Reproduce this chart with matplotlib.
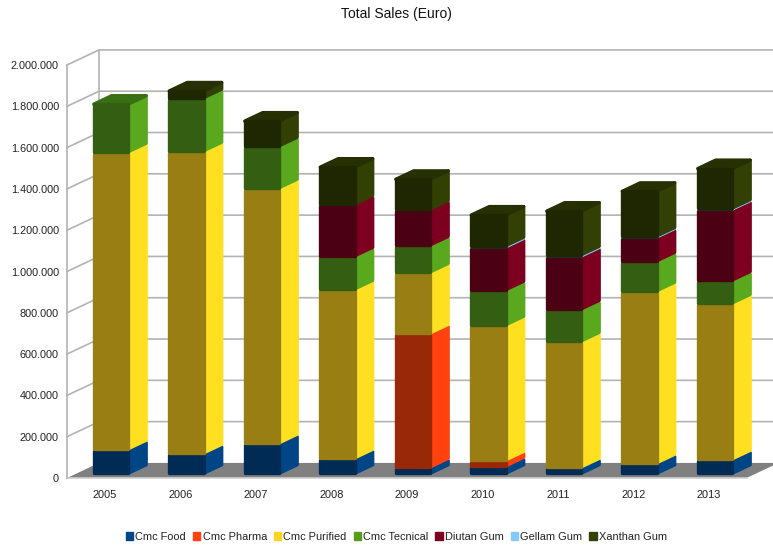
import matplotlib
matplotlib.use("Agg")
import matplotlib.pyplot as plt
from matplotlib.patches import Patch
from matplotlib.ticker import FuncFormatter

plt.rcParams['font.family'] = ['Liberation Sans', 'DejaVu Sans']

years = ['2005', '2006', '2007', '2008', '2009', '2010', '2011', '2012', '2013']

# values (euro)
cmc_food = [119000, 99000, 148000, 75000, 31000, 36000, 31000, 51000, 70000]
cmc_pharma = [0, 0, 0, 0, 649000, 29000, 0, 0, 0]
cmc_purified = [1438000, 1463000, 1235000, 818000, 295000, 654000, 610000, 833000, 755000]
cmc_tecnical = [242000, 257000, 203000, 160000, 131000, 170000, 155000, 145000, 111000]
diutan_gum = [0, 0, 0, 252000, 174000, 208000, 257000, 116000, 344000]
gellam_gum = [0, 0, 0, 0, 0, 5000, 5000, 4000, 4000]
xanthan_gum = [0, 44000, 131000, 189000, 155000, 160000, 223000, 228000, 203000]

names = ['Cmc Food', 'Cmc Pharma', 'Cmc Purified', 'Cmc Tecnical', 'Diutan Gum', 'Gellam Gum', 'Xanthan Gum']
series = [cmc_food, cmc_pharma, cmc_purified, cmc_tecnical, diutan_gum, gellam_gum, xanthan_gum]
side_colors = ['#004586', '#ff420e', '#ffe020', '#5aa81e', '#7e0021', '#83caff', '#334004']
front_colors = ['#002b55', '#992809', '#997e13', '#345e11', '#4b0013', '#2c2630', '#1e2602']
top_colors = ['#00386e', '#cc3510', '#c9a818', '#3a7014', '#600018', '#6aa3cc', '#263003']
legend_colors = ['#004586', '#ff420e', '#ffd320', '#579d1c', '#7e0021', '#83caff', '#314004']

W, H = 773, 547
fig = plt.figure(figsize=(W / 100, H / 100), dpi=100)
ax = fig.add_axes([67 / W, (H - 478) / H, 679.5 / W, 413 / H])
ax.set_xlim(-0.5, 8.5)
ax.set_ylim(0, 2000000)
for s in ax.spines.values():
    s.set_visible(False)
ax.patch.set_visible(False)

# 3d offsets, in axis units
wall_dx, wall_dy = 0.424, 73000
bar_dx, bar_dy = 0.238, 41000
bar_left, bar_w = -0.146, 0.457
base = 23000
corner = 5800
grid = '#b3b3b3'

# floor
ax.fill([-0.5, -0.5 + wall_dx, 8.5 + wall_dx, 8.5], [0, wall_dy, wall_dy, 0],
        color='#808080', lw=0, zorder=1, clip_on=False)
ax.plot([-0.5, 8.5], [0, 0], color='#d0d0d0', lw=1.2, zorder=1, clip_on=False)

# walls and grid
ticks = list(range(0, 2000001, 200000))
for t in ticks[1:]:
    ax.plot([-0.5, -0.5 + wall_dx, 8.5 + wall_dx], [t, t + wall_dy, t + wall_dy],
            color=grid, lw=1.2, zorder=1, clip_on=False)
ax.plot([-0.5, -0.5], [0, 2000000], color=grid, lw=1.2, zorder=1, clip_on=False)
ax.plot([-0.5 + wall_dx] * 2, [wall_dy, 2000000 + wall_dy], color=grid, lw=1.2, zorder=1, clip_on=False)

# stacked boxes
z = 2
for i in range(len(years)):
    x0 = i + bar_left
    x1 = x0 + bar_w
    bottom = base - corner
    last = max(k for k in range(len(series)) if series[k][i] > 0)
    for k in range(len(series)):
        v = series[k][i]
        if v == 0:
            continue
        top = bottom + v
        z += 1
        # thick round joins give the soft corners, thin slices stay thin
        inset = corner if v > 20000 else 0
        lw = 2.4 if v > 20000 else 1.0
        lo, hi = bottom + inset, top - inset
        style = dict(lw=lw, joinstyle='round', clip_on=False, zorder=z)
        ax.fill([x1, x1 + bar_dx, x1 + bar_dx, x1],
                [lo, lo + bar_dy, hi + bar_dy, hi],
                color=side_colors[k], **style)
        # only the uppermost box shows its lid
        if k == last:
            ax.fill([x0, x0 + bar_dx, x1 + bar_dx, x1],
                    [hi, hi + bar_dy, hi + bar_dy, hi],
                    color=top_colors[k], **style)
        ax.fill([x0, x1, x1, x0], [lo, lo, hi, hi],
                color=front_colors[k], **style)
        bottom = top

ax.set_xticks(range(len(years)))
ax.set_xticklabels(years)
ax.set_yticks(ticks)
ax.yaxis.set_major_formatter(FuncFormatter(lambda v, p: f"{int(v):,}".replace(',', '.')))
ax.tick_params(axis='x', length=0, pad=9, labelsize=7.9, colors='#222222')
ax.tick_params(axis='y', length=0, pad=5.8, labelsize=7.8, colors='#222222')

fig.text(396 / W, 1 - 14 / H, 'Total Sales (Euro)', ha='center', va='center', fontsize=10, color='#111111')

handles = [Patch(color=c, label=n) for c, n in zip(legend_colors, names)]
fig.legend(handles=handles, loc='center', bbox_to_anchor=(396.5 / W, 1 - 537 / H), ncol=7, frameon=False,
           fontsize=7.9, handlelength=0.65, handleheight=0.65, handletextpad=0.2, columnspacing=0.65,
           labelcolor='#222222')

fig.savefig('out.png', dpi=100)
